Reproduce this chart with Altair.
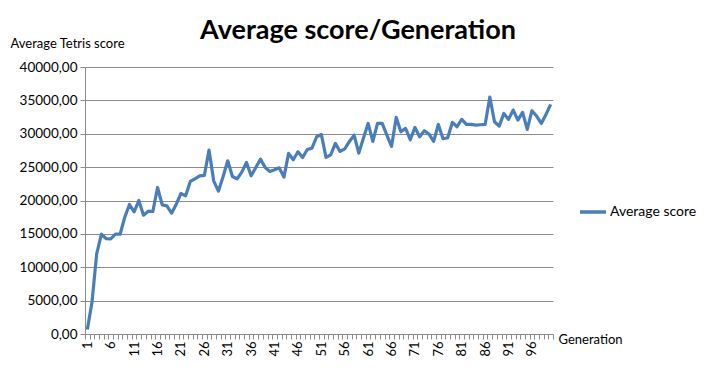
import altair as alt
import pandas as pd

# ---- data ----
generations = list(range(1, 101))
scores = [
    660, 4800, 12000, 14950, 14300, 14250, 14950, 14950, 17500, 19400,
    18300, 20000, 17800, 18400, 18350, 21950, 19350, 19200, 18100, 19450,
    21050, 20700, 22850, 23250, 23700, 23750, 27550, 22950, 21400, 23550,
    25950, 23600, 23250, 24250, 25700, 23700, 24950, 26200, 24950, 24350,
    24600, 24900, 23500, 27050, 26100, 27300, 26450, 27650, 27850, 29550,
    29900, 26450, 26850, 28550, 27350, 27750, 28850, 29800, 27100, 29350,
    31550, 28850, 31550, 31550, 29800, 28100, 32450, 30300, 30800, 29100,
    30950, 29550, 30450, 29950, 28850, 31400, 29250, 29400, 31700, 31050,
    32150, 31400, 31400, 31300, 31350, 31400, 35500, 31800, 31150, 33050,
    32150, 33550, 32050, 33200, 30650, 33450, 32650, 31550, 32900, 34400,
]
series_name = ["Average score"]
chart_title = ["Average score/Generation"]
y_title = "Average Tetris score"
x_title = "Generation"
y_ticks = [0, 5000, 10000, 15000, 20000, 25000, 30000, 35000, 40000]
x_boundaries = [g - 0.5 for g in generations] + [generations[-1] + 0.5]

W, H = 468, 267
FONT = "Lato"
GRID = "#8c8c8c"
BLUE = "#4A7EBB"

df = pd.DataFrame({"Generation": generations, "score": scores,
                   "series": series_name[0]})

line = alt.Chart(df).mark_line(strokeWidth=3.2, strokeJoin="round").encode(
    x=alt.X(
        "Generation:Q",
        scale=alt.Scale(domain=[0.5, 100.5], nice=False, zero=False),
        axis=alt.Axis(
            values=x_boundaries,
            labelExpr="((datum.value + 0.5) % 5 == 1 && datum.value < 100) ? '' + (datum.value + 0.5) : ''",
            labelAngle=-90,
            labelOffset=W / 200,
            labelOverlap=False,
            labelFlush=False,
            labelBound=False,
            labelFont=FONT,
            labelFontSize=13,
            labelColor="black",
            labelPadding=2,
            ticks=True,
            tickSize=5,
            tickColor=GRID,
            domainColor=GRID,
            grid=False,
            title=x_title,
            titleX=473,
            titleY=5,
            titleAlign="left",
            titleBaseline="middle",
            titleFont=FONT,
            titleFontSize=13,
            titleFontWeight="normal",
            titleColor="black",
        ),
    ),
    y=alt.Y(
        "score:Q",
        scale=alt.Scale(domain=[0, 40000], nice=False),
        axis=alt.Axis(
            values=y_ticks,
            labelExpr="replace(format(datum.value, '.2f'), '.', ',')",
            labelFont=FONT,
            labelFontSize=13.5,
            labelColor="black",
            labelPadding=3,
            tickSize=5,
            tickColor=GRID,
            domainColor=GRID,
            grid=True,
            gridColor=GRID,
            gridOpacity=1,
            title=y_title,
            titleAngle=0,
            titleX=-75,
            titleY=-24,
            titleAlign="left",
            titleBaseline="middle",
            titleFont=FONT,
            titleFontSize=13,
            titleFontWeight="normal",
            titleColor="black",
        ),
    ),
    color=alt.Color(
        "series:N",
        scale=alt.Scale(domain=series_name, range=[BLUE]),
        legend=alt.Legend(
            orient="none",
            legendX=493,
            legendY=130,
            title=None,
            padding=0,
            symbolType="stroke",
            symbolSize=676,
            symbolStrokeWidth=3.5,
            labelFont=FONT,
            labelFontSize=14,
            labelColor="black",
            labelOffset=2,
        ),
    ),
)

title = alt.Chart(pd.DataFrame({"t": chart_title})).mark_text(
    font=FONT, fontSize=27, fontWeight="bold", color="black",
    align="center", baseline="middle",
).encode(x=alt.value(273), y=alt.value(-36), text="t:N")

chart = alt.layer(line, title).properties(
    width=W, height=H,
    autosize=alt.AutoSizeParams(type="none"),
    padding={"left": 77, "top": 59, "right": 165, "bottom": 28},
    background="white",
).configure_view(stroke=None)

chart.save("out.html", embed_options={"renderer": "svg", "actions": False})
